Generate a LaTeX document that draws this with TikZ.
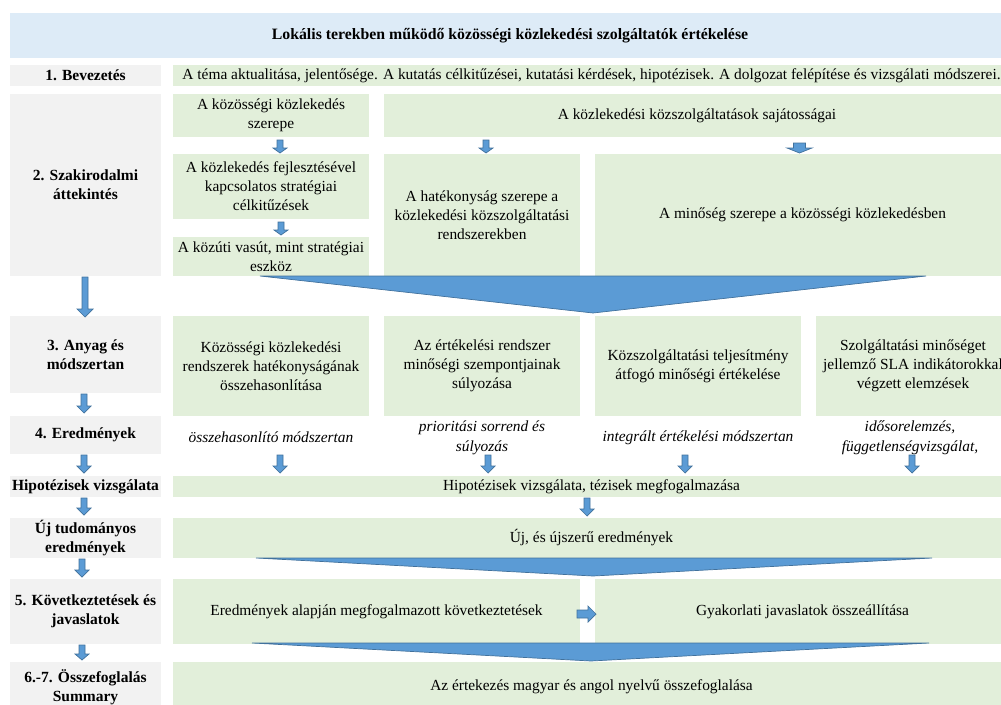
\documentclass[tikz,border=0pt]{standalone}
\usepackage{fontspec}
\setmainfont{Liberation Serif}
\definecolor{titlebg}{HTML}{DDEBF7}
\definecolor{labbg}{HTML}{F2F2F2}
\definecolor{grnbg}{HTML}{E2EFDA}
\definecolor{arrfill}{HTML}{5B9BD5}
\definecolor{arrline}{HTML}{41719C}
\tikzset{
  anybox/.style={draw=none, inner sep=0pt, outer sep=0pt, align=center, text=black,
    font=\fontsize{15.4}{19}\selectfont},
  titlebox/.style={anybox, fill=titlebg, font=\fontsize{15.8}{19}\selectfont\bfseries},
  labbox/.style={anybox, fill=labbg, font=\fontsize{15.5}{19}\selectfont\bfseries},
  grnbox/.style={anybox, fill=grnbg},
  restext/.style={anybox, font=\fontsize{15.4}{20}\selectfont\itshape},
  blockarrow/.style={fill=arrfill, draw=arrline, line width=0.7pt, line join=miter},
}
% box: name, style, x1, y1, x2, y2, text
\newcommand\bx[7]{%
  \node[#2, minimum width={(#5-#3)*1pt}, minimum height={(#6-#4)*1pt}] (#1)
    at ({(#3+#5)/2},{(#4+#6)/2}) {#7};}
% down block arrow: name, x, ytop, ybot, shaft half, head half, head length
\newcommand\dnarr[7]{%
  \coordinate (#1) at (#2,#3);
  \draw[blockarrow] ($(#1)+(-#5,0)$) -- ($(#1)+(#5,0)$) -- ($(#1)+(#5,#4-#3-#7)$)
    -- ($(#1)+(#6,#4-#3-#7)$) -- ($(#1)+(0,#4-#3)$) -- ($(#1)+(-#6,#4-#3-#7)$)
    -- ($(#1)+(-#5,#4-#3-#7)$) -- cycle;}
\usetikzlibrary{calc}
\begin{document}
\begin{tikzpicture}[x=1pt,y=-1pt]
\useasboundingbox (0,0) rectangle (1001,704);
\begin{scope}
\clip (0,0) rectangle (1001,704);
% title
\bx{title}{titlebox}{10}{13}{1010}{58}{Lokális terekben működő közösségi közlekedési szolgáltatók értékelése}
% row 1
\bx{l1}{labbox}{10}{65}{161}{86}{1. Bevezetés}
\bx{g1}{grnbox}{173}{65}{1010}{86}{A téma aktualitása, jelentősége. A kutatás célkitűzései, kutatási kérdések, hipotézisek. A dolgozat felépítése és vizsgálati módszerei.}
% row 2
\bx{l2}{labbox}{10}{94}{161}{276}{2. Szakirodalmi\\áttekintés}
\bx{g2a}{grnbox}{173}{94}{369}{137}{A közösségi közlekedés\\szerepe}
\bx{g2b}{grnbox}{384}{94}{1010}{137}{A közlekedési közszolgáltatások sajátosságai}
\bx{g2c}{grnbox}{173}{154}{369}{219}{A közlekedés fejlesztésével\\kapcsolatos stratégiai\\célkitűzések}
\bx{g2d}{grnbox}{173}{237}{369}{276}{A közúti vasút, mint stratégiai\\eszköz}
\bx{g2e}{grnbox}{384}{154}{580}{276}{A hatékonyság szerepe a\\közlekedési közszolgáltatási\\rendszerekben}
\bx{g2f}{grnbox}{595}{154}{1010}{276}{A minőség szerepe a közösségi közlekedésben}
% row 3
\bx{l3}{labbox}{10}{316}{161}{393}{3. Anyag és\\módszertan}
\bx{g3a}{grnbox}{173}{316}{369}{416}{Közösségi közlekedési\\rendszerek hatékonyságának\\összehasonlítása}
\bx{g3b}{grnbox}{384}{316}{580}{416}{Az értékelési rendszer\\minőségi szempontjainak\\súlyozása}
\bx{g3c}{grnbox}{595}{316}{801}{416}{Közszolgáltatási teljesítmény\\átfogó minőségi értékelése}
\bx{g3d}{grnbox}{816}{316}{1010}{416}{Szolgáltatási minőséget\\jellemző SLA indikátorokkal\\végzett elemzések}
% row 4
\bx{l4}{labbox}{10}{416}{161}{454}{4. Eredmények}
\node[restext] (r4a) at (271,437.5) {összehasonlító módszertan};
\node[restext] (r4b) at (482,437.5) {prioritási sorrend és\\súlyozás};
\node[restext] (r4c) at (698,437.5) {integrált értékelési módszertan};
\node[restext] (r4d) at (910,437.5) {idősorelemzés,\\függetlenségvizsgálat,};
% hypotheses
\bx{l5}{labbox}{10}{476}{161}{497}{Hipotézisek vizsgálata}
\bx{g5}{grnbox}{173}{476}{1010}{497}{Hipotézisek vizsgálata, tézisek megfogalmazása}
% new results
\bx{l6}{labbox}{10}{518}{161}{558}{Új tudományos\\eredmények}
\bx{g6}{grnbox}{173}{518}{1010}{558}{Új, és újszerű eredmények}
% conclusions
\bx{l7}{labbox}{10}{579}{161}{644}{5. Következtetések és\\javaslatok}
\bx{g7a}{grnbox}{173}{579}{580}{644}{Eredmények alapján megfogalmazott következtetések}
\bx{g7b}{grnbox}{595}{579}{1010}{644}{Gyakorlati javaslatok összeállítása}
% summary
\bx{l8}{labbox}{10}{662}{161}{712}{6.-7. Összefoglalás\\Summary}
\bx{g8}{grnbox}{173}{662}{1010}{712}{Az értekezés magyar és angol nyelvű összefoglalása}

% small arrows
\dnarr{a1}{280}{140}{153}{3}{7}{5}
\dnarr{a2}{486}{140}{153}{3}{7}{5}
\dnarr{a3}{799.5}{143}{153}{6}{12.5}{5}
\dnarr{a4}{281}{222}{235}{3}{7}{5}
\dnarr{al1}{85}{277}{317}{3}{8}{8}
\dnarr{al2}{84}{394}{413}{3}{7}{7}
\dnarr{al3}{84}{455}{473}{3}{7}{7}
\dnarr{al4}{84}{498}{515}{3}{7}{7}
\dnarr{al5}{82}{559}{577}{3}{7}{7}
\dnarr{al6}{82}{645}{660}{3}{7}{6}
\dnarr{ar1}{280}{455}{473}{3}{7}{7}
\dnarr{ar2}{488}{455}{473}{3}{7}{7}
\dnarr{ar3}{685}{455}{473}{3}{7}{7}
\dnarr{ar4}{912}{455}{473}{3}{7}{7}
\dnarr{ah}{587}{498}{516}{3}{7}{7}
% right arrow between conclusions
\coordinate (rr) at (577,614);
\draw[blockarrow] ($(rr)+(0,-4)$) -- ($(rr)+(11,-4)$) -- ($(rr)+(11,-8)$) -- ($(rr)+(19,0)$)
  -- ($(rr)+(11,8)$) -- ($(rr)+(11,4)$) -- ($(rr)+(0,4)$) -- cycle;
% chevrons
\coordinate (c1l) at (260,276); \coordinate (c1r) at (926,276); \coordinate (c1t) at (593,313);
\draw[blockarrow] (c1l) -- (c1r) -- (c1t) -- cycle;
\coordinate (c2l) at (256,558); \coordinate (c2r) at (932,558); \coordinate (c2t) at (593,576);
\draw[blockarrow] (c2l) -- (c2r) -- (c2t) -- cycle;
\coordinate (c3l) at (252,643); \coordinate (c3r) at (929,643); \coordinate (c3t) at (591,661);
\draw[blockarrow] (c3l) -- (c3r) -- (c3t) -- cycle;
\end{scope}
\end{tikzpicture}
\end{document}
